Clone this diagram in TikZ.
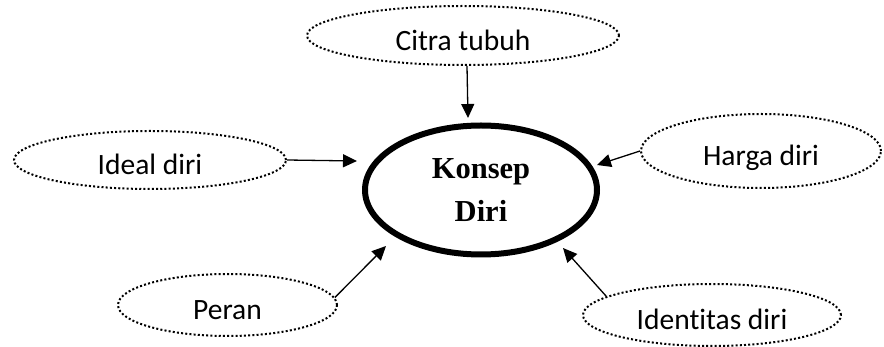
\documentclass[tikz,border=0pt]{standalone}
\usepackage{fontspec}
\setmainfont{Carlito}[Ligatures=NoCommon]
\newfontfamily\serifbold{Liberation Serif}
\usetikzlibrary{shapes.geometric,arrows.meta,calc}
\begin{document}
\begin{tikzpicture}[x=1pt,y=1pt,
  leaf/.style={ellipse, draw, line width=2pt, dash pattern=on 2pt off 2.2pt, inner sep=0pt, text height=30pt, text depth=0pt, font=\fontsize{29.5}{35}\selectfont},
  core/.style={ellipse, draw, line width=6pt, inner sep=0pt, align=center, font=\serifbold\bfseries\fontsize{30.5}{43}\selectfont},
  arr/.style={line width=1.3pt, -{Triangle[length=14pt,width=13pt]}}]
\useasboundingbox (0,0) rectangle (884,-347);
\node[core, minimum width=232pt, minimum height=129pt] (konsep) at (481,-190) {Konsep\\Diri};
\node[leaf, minimum width=312pt, minimum height=59pt] (citra) at (463,-35.5) {Citra tubuh};
\node[leaf, minimum width=272pt, minimum height=58pt] (ideal) at (150,-160) {Ideal diri};
\node[leaf, minimum width=240pt, minimum height=74pt] (harga) at (761,-151) {Harga diri};
\node[leaf, minimum width=219pt, minimum height=62pt] (peran) at (227.5,-305) {Peran};
\node[leaf, minimum width=258pt, minimum height=62pt] (identitas) at (712,-315) {Identitas diri};
\coordinate (k1) at ($(konsep.center)+(-13,72)$);
\coordinate (k2) at ($(konsep.center)+(-124,29)$);
\coordinate (k3) at ($(konsep.center)+(116,25)$);
\coordinate (k4) at ($(konsep.center)+(-95,-56)$);
\coordinate (k5) at ($(konsep.center)+(82,-58)$);
\draw[arr] ([xshift=4pt]citra.south) -- (k1);
\draw[arr] (ideal.east) -- (k2);
\draw[arr] (harga.west) -- (k3);
\draw[arr] (peran.4) -- (k4);
\draw[arr] (identitas.170) -- (k5);
\end{tikzpicture}
\end{document}
